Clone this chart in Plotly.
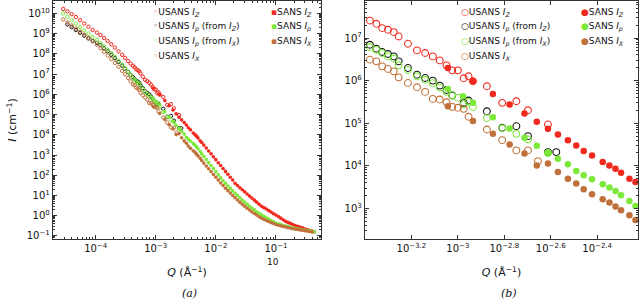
import numpy as np
import plotly.graph_objects as go

# ---------------- data (log10 values) ----------------
usans_logq = [-4.54, -4.47, -4.40, -4.33, -4.26, -4.19, -4.12, -4.05, -3.98, -3.92,
              -3.86, -3.80, -3.74, -3.68, -3.62, -3.56, -3.51, -3.46, -3.42,
              -3.379, -3.351, -3.326, -3.301, -3.276, -3.255, -3.215, -3.176, -3.141, -3.108,
              -3.078, -3.049, -3.024, -3.000, -2.975, -2.954, -2.935, -2.875, -2.809, -2.748,
              -2.698, -2.655, -2.612, -2.576]
usans_iz = [10.22, 10.10, 9.96, 9.82, 9.66, 9.50, 9.34, 9.18, 9.05, 8.93,
            8.78, 8.63, 8.47, 8.31, 8.12, 7.95, 7.80, 7.64, 7.52,
            7.41, 7.335, 7.234, 7.194, 7.14, 7.037, 6.867, 6.71, 6.649, 6.569,
            6.475, 6.358, 6.241, 6.241, 6.054, 6.101, 5.984, 5.867, 5.478, 5.515,
            5.304, None, 4.970, None]
usans_ip_z = [None, 9.45, 9.32, 9.18, 9.04, 8.90, 8.76, 8.64, 8.54, 8.43,
              8.27, 8.12, 7.95, 7.78, 7.60, 7.42, 7.27, 7.10, 6.97,
              6.843, 6.749, 6.672, 6.625, 6.569, 6.452, 6.297, 6.140, 6.063, 6.000,
              5.883, 5.78, 5.649, None, 5.478, 5.532, None, 5.281, 4.892, 4.930,
              4.696, None, 4.321, 4.321]
usans_ip_x = [10.00, 9.83, 9.66, 9.50, 9.33, 9.16, 9.00, 8.84, 8.68, 8.53,
              8.37, 8.20, 8.03, 7.85, 7.66, 7.47, 7.30, 7.12, 6.96,
              6.789, 6.726, 6.648, 6.569, 6.52, 6.358, 6.25, 6.10, 6.02, 5.94,
              5.84, 5.74, 5.66, 5.60, 5.44, 5.50, 5.38, 5.12, 4.88, 4.75,
              4.62, None, 4.30, None]
usans_ix = [9.70, 9.55, 9.40, 9.25, 9.10, 8.95, 8.79, 8.62, 8.45, 8.28,
            8.10, 7.92, 7.74, 7.55, 7.36, 7.16, 6.99, 6.80, 6.64,
            6.492, 6.452, 6.335, 6.274, 6.218, 6.077, 5.946, 5.843, 5.735, 5.571,
            5.555, 5.492, 5.384, 5.361, 5.337, 5.150, None, 4.852, 4.602, 4.361,
            4.361, 4.110, None, None]

sans_logq = [-3.043, -2.978, -2.935, -2.849, -2.777, -2.713, -2.660, -2.612, -2.569, -2.526,
             -2.490, -2.458, -2.422, -2.376, -2.347, -2.321, -2.297, -2.261, -2.235,
             -2.20, -2.16, -2.12, -2.08, -2.04, -2.00, -1.96, -1.92, -1.88, -1.84,
             -1.80, -1.76, -1.72, -1.68, -1.64, -1.60, -1.56, -1.52, -1.48, -1.44,
             -1.40, -1.36, -1.32, -1.28, -1.24, -1.20, -1.16, -1.12, -1.08, -1.04,
             -1.00, -0.96, -0.92, -0.88, -0.84, -0.80, -0.76, -0.72, -0.68, -0.64,
             -0.60, -0.56, -0.52, -0.48, -0.44, -0.40, -0.36]
sans_iz = [6.297, None, 5.984, 5.688, 5.438, 5.227, 5.033, 4.869, 4.735, 4.602,
           4.478, 4.344, 4.244, 4.087, 4.009, 3.932, 3.838, 3.698, 3.618,
           3.49, 3.35, 3.20, 3.06, 2.91, 2.77, 2.62, 2.48, 2.33, 2.19,
           2.05, 1.90, 1.76, 1.60, 1.49, 1.38, 1.28, 1.18, 1.07, 0.97,
           0.87, 0.77, 0.67, 0.57, 0.47, 0.40, 0.33, 0.25, 0.18, 0.10,
           0.03, -0.04, -0.12, -0.20, -0.28, -0.33, -0.38, -0.43, -0.48, -0.52,
           -0.56, -0.60, -0.64, -0.68, -0.72, -0.76, -0.80]
sans_ip = [5.806, 5.632, 5.478, 5.141, 4.876, 4.658, 4.47, 4.307, 4.166, 4.033,
           3.876, 3.775, 3.682, 3.564, 3.487, 3.407, 3.307, 3.173, 3.056,
           2.93, 2.78, 2.63, 2.48, 2.33, 2.18, 2.02, 1.87, 1.73, 1.60,
           1.47, 1.35, 1.23, 1.11, 1.00, 0.89, 0.78, 0.67, 0.57, 0.47,
           0.38, 0.29, 0.20, 0.12, 0.04, -0.03, -0.10, -0.17, -0.24, -0.30,
           -0.36, -0.40, -0.44, -0.48, -0.51, -0.54, -0.57, -0.60, -0.62, -0.65,
           -0.67, -0.69, -0.71, -0.73, -0.75, -0.77, -0.80]
sans_ix = [5.398, None, 5.05, 4.75, 4.50, 4.290, 4.009, 4.056, 3.853, 3.698,
           3.581, 3.447, 3.330, 3.213, 3.136, 3.042, 2.956, 2.838, 2.728,
           2.60, 2.46, 2.32, 2.18, 2.04, 1.90, 1.76, 1.62, 1.49, 1.36,
           1.24, 1.12, 1.00, 0.89, 0.78, 0.67, 0.57, 0.47, 0.37, 0.28,
           0.19, 0.11, 0.03, -0.05, -0.12, -0.18, -0.24, -0.29, -0.34, -0.39,
           -0.43, -0.47, -0.50, -0.53, -0.56, -0.59, -0.61, -0.64, -0.66, -0.68,
           -0.70, -0.72, -0.74, -0.76, -0.78, -0.80, None]

left_x_ticks = [-4, -3, -2, -1]
left_y_ticks = list(range(-1, 11))
right_x_ticks = [-3.2, -3.0, -2.8, -2.6, -2.4]
right_x_labels = ["−3.2", "−3", "−2.8", "−2.6", "−2.4"]
right_y_ticks = [3, 4, 5, 6, 7]

# ---------------- styling ----------------
RED = "#f0281e"
GREEN = "#7be83a"
BROWN = "#c0703a"
BLACK = "#111111"
AX = "#333333"
FONT = "DejaVu Sans"


def lin(vals):
    return [None if v is None else 10 ** v for v in vals]


q_u = lin(usans_logq)
q_s = lin(sans_logq)

usans = [(usans_iz, RED), (usans_ip_z, BLACK), (usans_ip_x, GREEN), (usans_ix, BROWN)]
sans = [(sans_iz, RED), (sans_ip, GREEN), (sans_ix, BROWN)]

fig = go.Figure()
for xa, ya, s_open, s_fill, lw in [("x", "y", 3.4, 3.6, 1.0), ("x2", "y2", 6.8, 6.5, 1.1)]:
    for vals, col in usans:
        fig.add_trace(go.Scatter(x=q_u, y=lin(vals), mode="markers", xaxis=xa, yaxis=ya,
                                 showlegend=False,
                                 marker=dict(symbol="circle-open", size=s_open, color=col,
                                             line=dict(width=lw, color=col))))
    for vals, col in sans:
        fig.add_trace(go.Scatter(x=q_s, y=lin(vals), mode="markers", xaxis=xa, yaxis=ya,
                                 showlegend=False,
                                 marker=dict(symbol="circle", size=s_fill, color=col,
                                             line=dict(width=0))))

# layout helpers (pixel -> paper)
ML, MR, MT, MB = 53, 2, 1, 61
W, H = 640, 300
PW, PH = W - ML - MR, H - MT - MB


def px(x):
    return (x - ML) / PW


def py(y):
    return 1 - (y - MT) / PH


def minor_vals(lo, hi):
    out = []
    for p in range(lo, hi):
        for k in range(2, 10):
            out.append(k * 10.0 ** p)
    return out


def sup(e):
    return "10<sup>" + e + "</sup>"


axis_common = dict(type="log", showline=True, linecolor=AX, linewidth=1.2, mirror="allticks",
                   ticks="inside", ticklen=4, tickcolor=AX, tickwidth=1, showgrid=False,
                   zeroline=False, automargin=False,
                   tickfont=dict(family=FONT, size=10, color="#111"))

fig.update_layout(
    width=W, height=H,
    margin=dict(l=ML, r=MR, t=MT, b=MB, autoexpand=False),
    paper_bgcolor="white", plot_bgcolor="white",
    font=dict(family=FONT, color="#111"),
    xaxis=dict(axis_common, domain=[0, px(321)], anchor="y",
               range=[-4.71, -0.25],
               tickmode="array", tickvals=[10.0 ** t for t in left_x_ticks],
               ticktext=[sup(str(t).replace("-", "−")) for t in left_x_ticks],
               minor=dict(tickmode="array", tickvals=minor_vals(-5, 0), ticks="inside",
                          ticklen=2, tickcolor=AX),
               title=dict(text="<i>Q</i> (Å<sup>−1</sup>)", font=dict(size=11), standoff=15)),
    yaxis=dict(axis_common, domain=[0, 1], anchor="x",
               range=[-1.15, 10.61],
               tickmode="array", tickvals=[10.0 ** t for t in left_y_ticks],
               ticktext=[sup(str(t).replace("-", "−")) for t in left_y_ticks],
               minor=dict(tickmode="array", tickvals=minor_vals(-2, 11), ticks="inside",
                          ticklen=2, tickcolor=AX),
               title=dict(text="<i>I</i> (cm<sup>−1</sup>)", font=dict(size=11), standoff=7)),
    xaxis2=dict(axis_common, domain=[px(365), 1], anchor="y2",
                range=[-3.40, -2.224],
                tickmode="array", tickvals=[10.0 ** t for t in right_x_ticks],
                ticktext=[sup(t) for t in right_x_labels],
                title=dict(text="<i>Q</i> (Å<sup>−1</sup>)", font=dict(size=11), standoff=15)),
    yaxis2=dict(axis_common, domain=[0, 1], anchor="x2",
                range=[2.28, 7.87],
                tickmode="array", tickvals=[10.0 ** t for t in right_y_ticks],
                ticktext=[sup(str(t)) for t in right_y_ticks],
                minor=dict(tickmode="array", tickvals=minor_vals(2, 8), ticks="inside",
                           ticklen=2, tickcolor=AX)),
)

# legends drawn as text rows
def ann(x, y, text, size=9, xanchor="left", family=FONT):
    fig.add_annotation(x=px(x), y=py(y), xref="paper", yref="paper", text=text,
                       showarrow=False, xanchor=xanchor, yanchor="middle",
                       font=dict(family=family, size=size, color="#111"))


labels_u = ["USANS <i>I<sub>Z</sub></i>",
            "USANS <i>I<sub>p</sub></i> (from <i>I<sub>Z</sub></i>)",
            "USANS <i>I<sub>p</sub></i> (from <i>I<sub>X</sub></i>)",
            "USANS <i>I<sub>X</sub></i>"]
labels_s = ["SANS <i>I<sub>Z</sub></i>", "SANS <i>I<sub>p</sub></i>", "SANS <i>I<sub>X</sub></i>"]
rows = [12.7, 26.7, 41.7, 56.7]

for i, ((_, col), lab) in enumerate(zip(usans, labels_u)):
    ann(151, rows[i], f"<span style='color:{col}'>◦</span>" + lab)
    ann(459, rows[i], f"<span style='color:{col}'>○</span>" + lab)
for i, ((_, col), lab) in enumerate(zip(sans, labels_s)):
    ann(269, rows[i], f"<span style='color:{col}'>▪</span>" + lab)
    ann(579, rows[i], f"<span style='color:{col}'>●</span>" + lab)

# stray label under 10^-1 and panel captions
ann(273, 262, "10", size=9, xanchor="center")
ann(189, 293, "<i>(a)</i>", size=11, xanchor="center", family="DejaVu Serif")
ann(509, 293, "<i>(b)</i>", size=11, xanchor="center", family="DejaVu Serif")

fig.write_html("out.html",
               config={"displayModeBar": False, "staticPlot": True},
               post_script="document.body.style.margin='0';document.body.style.padding='0';"
                           "document.body.style.overflow='hidden';")
